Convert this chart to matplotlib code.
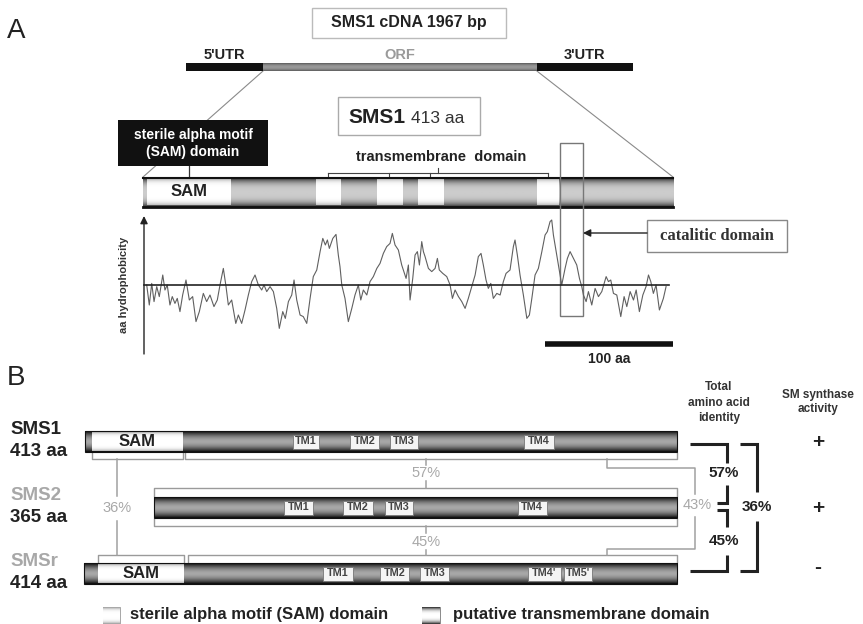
import numpy as np
import matplotlib
matplotlib.use('Agg')
import matplotlib.pyplot as plt
from matplotlib.patches import Rectangle, ConnectionPatch

plt.rcParams['font.family'] = ['Liberation Sans', 'DejaVu Sans']

# ---------------- data ----------------
cdna_title = "SMS1 cDNA 1967 bp"
cdna_labels = ["5'UTR", "ORF", "3'UTR"]
cdna_lengths_bp = [339, 1205, 423]

sms1_len_aa = 413
sms1_sam_A = (3, 68)
sms1_tm_A = [(135, 154), (182, 202), (214, 234), (307, 324)]
catalytic_domain = (325, 343)
scale_bar_aa = 100

hydro_pos = [2.9, 4.9, 6.8, 8.6, 10.7, 12.7, 15.4, 17.1, 18.9, 21.0,
             22.8, 24.9, 26.7, 28.8, 30.9, 33.5, 36.1, 38.7, 41.3, 43.9,
             47.0, 49.6, 52.2, 55.3, 57.9, 60.0, 62.6, 64.7, 66.5, 69.1,
             72.3, 74.3, 76.9, 79.5, 82.1, 84.7, 87.3, 89.9, 92.5, 94.3,
             96.4, 99.0, 101.6, 104.2, 106.2, 108.9, 110.9, 113.3, 115.9, 117.7,
             119.8, 122.4, 124.9, 127.6, 130.2, 132.7, 135.4, 138.0, 140.1, 142.1,
             143.7, 145.2, 147.9, 150.4, 152.2, 153.5, 154.9, 157.4, 160.0, 162.7,
             165.2, 167.8, 169.7, 171.7, 174.4, 176.9, 179.5, 182.2, 184.7, 187.3,
             189.9, 192.5, 194.3, 196.4, 199.0, 201.6, 204.2, 205.0, 206.8, 208.1,
             210.2, 212.0, 213.8, 215.4, 217.2, 218.5, 219.8, 222.4, 225.0, 227.6,
             229.4, 230.9, 233.6, 236.7, 239.3, 241.1, 243.2, 245.8, 248.4, 251.0,
             253.5, 256.2, 258.8, 261.3, 263.4, 265.2, 267.3, 269.1, 271.0, 273.0,
             275.7, 278.3, 280.8, 282.9, 286.0, 288.6, 289.9, 291.7, 293.8, 296.4,
             299.1, 301.1, 303.0, 305.5, 308.1, 310.8, 313.3, 315.1, 317.2, 318.5,
             319.8, 322.4, 324.5, 326.3, 328.9, 330.7, 332.8, 335.4, 338.0, 340.1,
             341.9, 343.2, 345.3, 347.1, 349.7, 352.3, 354.9, 357.5, 360.9, 362.7,
             364.5, 366.6, 369.2, 372.3, 374.9, 377.0, 379.6, 382.2, 384.3, 386.8,
             389.5, 392.0, 393.9, 395.7, 397.7, 399.8, 402.4, 405.5, 407.6]
hydro_val = [0.00, -1.00, 0.08, -0.83, -0.08, -0.58, 0.50, -0.25, 0.00, -1.00,
             -0.58, -0.92, -0.67, -1.33, -0.50, 0.25, -0.75, -0.58, -1.83, -1.33,
             -0.42, -0.83, -0.50, -1.08, -0.75, 0.00, 0.83, -0.08, -1.00, -0.75,
             -1.92, -1.50, -1.92, -1.25, -0.50, 0.17, 0.50, 0.00, -0.25, 0.00,
             -0.33, -0.08, -0.33, -1.17, -2.17, -1.33, -1.67, -0.83, -0.50, 0.25,
             -0.75, -1.50, -1.58, -1.92, -0.67, 0.42, 0.75, 1.67, 2.33, 2.00,
             2.25, 1.83, 2.33, 2.53, 1.50, 0.92, 0.00, -0.67, -1.83, -1.17,
             -0.50, 0.00, -0.75, -0.25, -0.50, 0.17, 0.42, 0.83, 1.08, 1.58,
             1.92, 2.08, 2.58, 2.00, 1.75, 1.00, 0.50, 0.33, 1.00, -0.75,
             0.33, 1.50, 1.67, 1.00, 2.17, 1.67, 1.42, 0.83, 0.67, 0.83,
             1.33, 0.75, 0.58, 0.42, 0.00, -0.67, -0.25, -0.58, -0.83, -1.17,
             -0.67, -0.08, 0.50, 1.42, 1.58, 1.00, 0.25, -0.17, 0.08, -0.67,
             -0.42, -0.50, 0.17, 0.58, 0.75, 1.92, 2.25, 1.50, 0.50, -0.50,
             -1.67, -1.50, -0.67, 0.50, 0.83, 1.67, 2.50, 2.67, 3.17, 3.25,
             2.50, 1.50, 0.67, 0.00, 0.83, 1.33, 1.67, 1.33, 1.00, 0.33,
             -0.08, -0.50, -0.83, -0.33, -1.00, -0.17, -0.58, -0.33, 0.42, 0.17,
             0.25, -0.42, -0.50, -1.58, -0.58, -1.08, -0.33, -0.75, -0.25, -1.33,
             -0.50, -0.08, 0.50, 0.17, -0.42, 0.00, -1.25, -0.67, -0.08]

proteins = ["SMS1", "SMS2", "SMSr"]
protein_len = [413, 365, 414]
sam_domains = [(5, 68), None, (10, 70)]
tm_names = [["TM1", "TM2", "TM3", "TM4"],
            ["TM1", "TM2", "TM3", "TM4"],
            ["TM1", "TM2", "TM3", "TM4'", "TM5'"]]
tm_boxes = [[(145, 163), (185, 205), (213, 232), (306, 327)],
            [(91, 111), (132, 153), (161, 181), (254, 274)],
            [(167, 188), (207, 227), (235, 255), (310, 333), (335, 355)]]
sam_identity = 36          # SMS1 vs SMSr SAM
core_identity = [57, 45]   # SMS1-SMS2, SMS2-SMSr (core domain)
core_identity_13 = 43      # SMS1-SMSr core domain
total_identity = [57, 45, 36]   # SMS1-SMS2, SMS2-SMSr, SMS1-SMSr
sm_activity = ["+", "+", "-"]

# ---------------- layout ----------------
W, H = 863, 624
fig = plt.figure(figsize=(W / 100, H / 100), dpi=100)
fig.patch.set_facecolor('white')


def overlay(x0, sx, y0=0.0, sy=-1.0, z=1):
    ax = fig.add_axes([0, 0, 1, 1], zorder=z)
    ax.set_xlim((0 - x0) / sx, (W - x0) / sx)
    ax.set_ylim((y0 - H) / sy, y0 / sy)
    ax.axis('off')
    ax.patch.set_alpha(0)
    return ax


def grad_rect(ax, x0, x1, ytop, ybot, edge, mid, power, z=2):
    t = np.linspace(-1, 1, 48)
    g = mid - (mid - edge) * np.abs(t) ** power
    ax.imshow(g[:, None], cmap='gray', vmin=0, vmax=1,
              extent=(x0, x1, ybot, ytop), aspect='auto',
              interpolation='bilinear', zorder=z)


px = overlay(0, 1, z=5)                       # pixel overlay
bp_per_px = sum(cdna_lengths_bp) / 447.0
axc = overlay(186, 1 / bp_per_px, z=2)         # cDNA (bp, pixel y)
sxA = 530.0 / sms1_len_aa
axA = overlay(143, sxA, z=2)                   # SMS1 bar A (aa, pixel y)
axH = overlay(143, sxA, y0=285, sy=20, z=3)    # hydrophobicity
axB = overlay(677, 1.433, z=2)                 # panel B (aa from C-term, pixel y)

GREY_T = '#a8a8a8'

# ---------- Panel A ----------
px.text(7, 31, "A", fontsize=20, ha='left', va='center', color='#222')

px.add_patch(Rectangle((312, 8), 194, 30, fill=False, ec='#bbbbbb', lw=1))
px.text(409, 23, cdna_title, fontsize=11.5, fontweight='bold', ha='center',
        va='center', color='#222')

starts = np.concatenate([[0], np.cumsum(cdna_lengths_bp)[:-1]])
for lab, s, L in zip(cdna_labels, starts, cdna_lengths_bp):
    if lab == "ORF":
        grad_rect(axc, s, s + L, 63, 71, 0.35, 0.6, 2)
        col = '#9a9a9a'
    else:
        axc.add_patch(Rectangle((s, 63), L, 8, color='#111', lw=0, zorder=2))
        col = '#222'
    axc.text(s + L / 2, 55, lab, fontsize=10.5, fontweight='bold',
             ha='center', va='center', color=col)

orf_start = cdna_lengths_bp[0]
orf_end = cdna_lengths_bp[0] + cdna_lengths_bp[1]
for xa, xb in [(orf_start, 0), (orf_end, sms1_len_aa)]:
    cp = ConnectionPatch(xyA=(xa, 71), coordsA=axc.transData,
                         xyB=(xb, 177), coordsB=axA.transData,
                         color='#8a8a8a', lw=0.8)
    fig.add_artist(cp)

# SMS1 413 aa box
px.add_patch(Rectangle((338, 97), 142, 38, fill=False, ec='#aaaaaa', lw=1))
px.text(348, 123, "SMS1", fontsize=15, fontweight='bold', ha='left',
        va='baseline', color='#222')
px.text(411, 123, "413 aa", fontsize=12.5, ha='left', va='baseline',
        color='#333')

# black SAM box
px.add_patch(Rectangle((118, 120), 150, 46, color='#111', lw=0))
px.text(193, 135, "sterile alpha motif", fontsize=10, fontweight='bold',
        color='white', ha='center', va='center')
px.text(193, 152, "(SAM) domain", fontsize=10, fontweight='bold',
        color='white', ha='center', va='center')
sam_c = (sms1_sam_A[0] + sms1_sam_A[1]) / 2
axA.plot([sam_c, sam_c], [166, 177], color='#333', lw=0.9)

# protein bar in A
barA_top, barA_bot = 177, 208
grad_rect(axA, 0, sms1_len_aa, barA_top, barA_bot, 0.05, 0.8, 3)
for a, b in [sms1_sam_A] + sms1_tm_A:
    grad_rect(axA, a, b, barA_top + 2, barA_bot - 3, 0.75, 1.0, 5, z=3)
axA.plot([0, sms1_len_aa], [barA_top + 0.5, barA_top + 0.5], color='#111', lw=1.5, zorder=4)
axA.plot([0, sms1_len_aa], [barA_bot - 1, barA_bot - 1], color='#111', lw=2.0, zorder=4)
axA.text(sam_c, 192, "SAM", fontsize=12, fontweight='bold', ha='center',
         va='center', color='#222', zorder=5)

# transmembrane bracket
tm_cent = [(a + b) / 2 for a, b in sms1_tm_A]
axA.plot([tm_cent[0], tm_cent[-1]], [172.5, 172.5], color='#444', lw=0.8)
for c in tm_cent:
    axA.plot([c, c], [172.5, 177], color='#444', lw=0.8)
mid_tm = (tm_cent[0] + tm_cent[-1]) / 2
axA.plot([mid_tm, mid_tm], [168, 172.5], color='#444', lw=0.8)
px.text(441, 157, "transmembrane  domain", fontsize=10.5, fontweight='bold',
        ha='center', va='center', color='#222')

# catalytic box
axA.add_patch(Rectangle((catalytic_domain[0], 143),
                        catalytic_domain[1] - catalytic_domain[0], 173,
                        fill=False, ec='#777', lw=1, zorder=6))
px.add_patch(Rectangle((647, 220), 140, 32, fill=False, ec='#888', lw=1))
px.text(717, 236, "catalitic domain", fontsize=12, fontweight='bold',
        family=['Liberation Serif', 'DejaVu Serif'], ha='center', va='center',
        color='#333')
px.annotate('', xy=(583, 233), xytext=(647, 233),
            arrowprops=dict(arrowstyle='-|>', color='#222', lw=1,
                            mutation_scale=11, shrinkA=0, shrinkB=0))

# hydrophobicity profile
axH.plot(hydro_pos, hydro_val, color='#606060', lw=0.8, zorder=3)
axH.plot([hydro_pos[0] - 2, hydro_pos[-1] + 2], [0, 0], color='#222', lw=1.2, zorder=4)
px.annotate('', xy=(144, 216), xytext=(144, 354),
            arrowprops=dict(arrowstyle='-|>', color='#222', lw=1,
                            mutation_scale=11, shrinkA=0, shrinkB=0))
px.text(124, 285, "aa hydrophobicity", rotation=90, fontsize=8,
        fontweight='bold', ha='center', va='center', color='#333')

# scale bar
axA.plot([sms1_len_aa - scale_bar_aa, sms1_len_aa], [344, 344], color='#111',
         lw=4, solid_capstyle='butt')
axA.text(sms1_len_aa - scale_bar_aa / 2, 359, f"{scale_bar_aa} aa", fontsize=10,
         fontweight='bold', ha='center', va='center', color='#222')

# ---------- Panel B ----------
px.text(7, 378, "B", fontsize=20, ha='left', va='center', color='#222')

bar_tops = [431, 497, 563]
bar_h = 21
name_cols = ['#222', GREY_T, GREY_T]
for i, (name, L) in enumerate(zip(proteins, protein_len)):
    top = bar_tops[i]
    bot = top + bar_h
    grad_rect(axB, -L, 0, top, bot, 0.04, 0.66, 1.8)
    axB.add_patch(Rectangle((-L, top), L, bar_h, fill=False, ec='#111', lw=0.8, zorder=4))
    if sam_domains[i] is not None:
        a, b = sam_domains[i]
        grad_rect(axB, a - L, b - L, top + 1, bot - 1, 0.7, 1.0, 5, z=3)
        axB.text((a + b) / 2 - L, top + bar_h / 2, "SAM", fontsize=12,
                 fontweight='bold', ha='center', va='center', color='#222', zorder=5)
    for nm, (a, b) in zip(tm_names[i], tm_boxes[i]):
        axB.add_patch(Rectangle((a - L, top + 3.5), b - a, bar_h - 7, fc='#f4f4f4',
                                ec='#777', lw=0.6, zorder=5))
        axB.text((a + b) / 2 - L, top + bar_h / 2, nm, fontsize=7.8,
                 fontweight='bold', ha='center', va='center', color='#444', zorder=6)
    px.text(10, top - 1, name, fontsize=13.5, fontweight='bold', ha='left',
            va='center', color=name_cols[i])
    px.text(10, top + 21, f"{L} aa", fontsize=13.5, fontweight='bold',
            ha='left', va='center', color='#222')


def bracket(ax, x0, x1, yb, yt):
    ax.plot([x0, x0, x1, x1], [yb, yt, yt, yb], color='#9a9a9a', lw=1, zorder=2)


# SMS1 below
L1 = protein_len[0]
s1a, s1b = sam_domains[0]
bracket(axB, s1a - L1, s1b - L1, 453, 459)
bracket(axB, s1b + 2 - L1, 0, 453, 459)
# SMS2 above and below
L2 = protein_len[1]
bracket(axB, -L2, 0, 496, 488)
bracket(axB, -L2, 0, 519, 526)
# SMSr above
L3 = protein_len[2]
s3a, s3b = sam_domains[2]
bracket(axB, s3a - L3, s3b - L3, 562, 555)
bracket(axB, s3b + 3 - L3, 0, 562, 555)

# grey identity connectors
gkw = dict(color='#a0a0a0', lw=1.1)
px.plot([117, 117], [459, 496], **gkw)
px.plot([117, 117], [521, 555], **gkw)
px.text(117, 508, f"{sam_identity}%", fontsize=10.5, ha='center', va='center', color=GREY_T)
px.plot([426, 426], [459, 465], **gkw)
px.plot([426, 426], [481, 488], **gkw)
px.text(426, 473, f"{core_identity[0]}%", fontsize=10.5, ha='center', va='center', color=GREY_T)
px.plot([426, 426], [526, 533], **gkw)
px.plot([426, 426], [550, 555], **gkw)
px.text(426, 542, f"{core_identity[1]}%", fontsize=10.5, ha='center', va='center', color=GREY_T)
px.plot([607, 607, 695, 695], [459, 468, 468, 494], **gkw)
px.plot([695, 695, 607, 607], [517, 549, 549, 555], **gkw)
px.text(697, 505, f"{core_identity_13}%", fontsize=10.5, ha='center', va='center', color=GREY_T)

# black total-identity brackets
bkw = dict(color='#222', lw=2.2, solid_capstyle='butt', solid_joinstyle='miter')
px.plot([690, 727, 727], [444, 444, 463], **bkw)
px.plot([727, 727, 717], [485, 503, 503], **bkw)
px.text(724, 473, f"{total_identity[0]}%", fontsize=11, fontweight='bold', ha='center', va='center', color='#222')
px.plot([717, 727, 727], [510, 510, 527], **bkw)
px.plot([727, 727, 690], [555, 571, 571], **bkw)
px.text(724, 541, f"{total_identity[1]}%", fontsize=11, fontweight='bold', ha='center', va='center', color='#222')
px.plot([740, 757, 757], [444, 444, 492], **bkw)
px.plot([757, 757, 740], [521, 571, 571], **bkw)
px.text(757, 507, f"{total_identity[2]}%", fontsize=11, fontweight='bold', ha='center', va='center', color='#222')

# headers
for y, t in zip([387, 403, 418], ["Total", "amino acid", "identity"]):
    px.text(719, y, t, fontsize=8.5, fontweight='bold', ha='center', va='center', color='#333')
for y, t in zip([395, 409], ["SM synthase", "activity"]):
    px.text(818, y, t, fontsize=8.5, fontweight='bold', ha='center', va='center', color='#333')
for i, sym in enumerate(sm_activity):
    yc = bar_tops[i] + bar_h / 2 + (1 if sym == "+" else -6)
    px.text(818, yc, sym, fontsize=15, fontweight='bold', ha='center', va='center', color='#222')

# legend
grad_rect(px, 103, 120, 607, 624, 0.6, 1.0, 4, z=2)
px.add_patch(Rectangle((103, 607), 17, 17, fill=False, ec='#999', lw=0.6))
px.text(130, 615, "sterile alpha motif (SAM) domain", fontsize=12,
        fontweight='bold', ha='left', va='center', color='#222')
grad_rect(px, 422, 440, 607, 624, 0.15, 1.0, 3, z=2)
px.add_patch(Rectangle((422, 607), 18, 17, fill=False, ec='#777', lw=0.6))
px.text(453, 615, "putative transmembrane domain", fontsize=12,
        fontweight='bold', ha='left', va='center', color='#222')

fig.savefig("out.png", dpi=100, facecolor='white')
